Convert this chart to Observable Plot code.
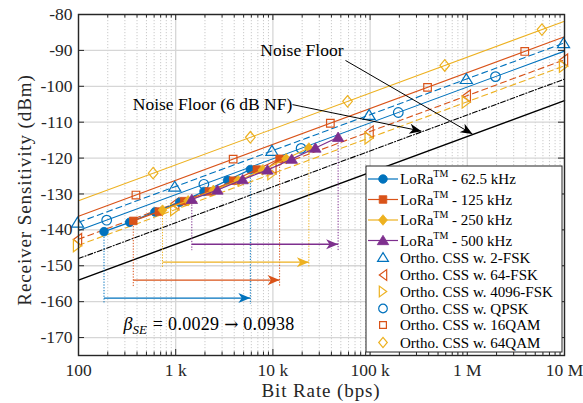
<!DOCTYPE html>
<html><head><meta charset="utf-8">
<script src="https://cdn.jsdelivr.net/npm/d3@7"></script>
<script src="https://cdn.jsdelivr.net/npm/@observablehq/plot@0.6"></script>
<style>body{margin:0;background:#fff} #chart{width:583px;height:403px}</style>
</head><body><div id="chart"></div>
<script>
// ---------------- data ----------------
const xTickValues = [1e2, 1e3, 1e4, 1e5, 1e6, 1e7];
const xTickLabels = ["100", "1 k", "10 k", "100 k", "1 M", "10 M"];
const yTickValues = [-170, -160, -150, -140, -130, -120, -110, -100, -90, -80];

// LoRa (filled markers): bit rate (bps) vs sensitivity (dBm), SF12 -> SF6
const loraRates625 = [183, 336, 610, 1099, 1953, 3418, 5859];
const loraSens625  = [-140.5, -137.9, -135.0, -132.3, -129.3, -126.2, -123.2];
const loraRates125 = [366, 671, 1221, 2197, 3906, 6836, 11719];
const loraSens125  = [-137.5, -134.9, -132.0, -129.3, -126.3, -123.2, -120.2];
const loraRates250 = [732, 1343, 2441, 4395, 7813, 13672, 23438];
const loraSens250  = [-134.5, -131.9, -129.0, -126.3, -123.3, -120.2, -117.2];
const loraRates500 = [1465, 2686, 4883, 8789, 15625, 27344, 46875];
const loraSens500  = [-131.5, -128.9, -126.0, -123.3, -120.3, -117.2, -114.2];
const arrowLevels  = [-159, -154, -149, -144];
const dropLevels   = [-160.8, -155.8, -150.8, -145.8];

// Orthogonal CSS (open markers)
const fskRates     = [97.7, 977, 9770, 97700, 977000, 9770000];
const sens2FSK     = [-138, -128, -118, -108, -98, -88];
const sens64FSK    = [-142.7, -132.7, -122.7, -112.7, -102.7, -92.7];
const sens4096FSK  = [-144.4, -134.4, -124.4, -114.4, -104.4, -94.4];
const qpskRates    = [195, 1950, 19500, 195000, 1950000];
const sensQPSK     = [-137.3, -127.3, -117.3, -107.3, -97.3];
const qam16Rates   = [390, 3900, 39000, 390000, 3900000];
const sens16QAM    = [-130.3, -120.3, -110.3, -100.3, -90.3];
const qam64Rates   = [586, 5860, 58600, 586000, 5860000];
const sens64QAM    = [-124.2, -114.2, -104.2, -94.2, -84.2];

// straight reference lines: value at 100 bps and at 10 Mbps
const lineRates    = [100, 1e7];
const line2FSK     = [-137.9, -87.9];
const line64FSK    = [-142.6, -92.6];
const line4096FSK  = [-144.3, -94.3];
const lineQPSK     = [-140.2, -90.2];
const line16QAM    = [-136.2, -86.2];
const line64QAM    = [-131.9, -81.9];
const noiseFloor   = [-154, -104];
const noiseFloor6  = [-148, -98];

// annotations
const nfText = "Noise Floor", nfTextPos = [53200, -90.1];
const nfArrow = [[55800, -92.8], [1.13e6, -113.3]];
const nf6Text = "Noise Floor (6 dB NF)", nf6TextPos = [15800, -105.1];
const nf6Arrow = [[15900, -105.1], [338000, -112.5]];
const betaText = "βSE = 0.0029 → 0.0938", betaPos = [290, -166.3];

// ---------------- styling ----------------
const blue = "#0072BD", orange = "#D95319", yellow = "#EDB120", purple = "#7E2F8E";
const W = 583, H = 403, mL = 78, mR = 19, mT = 14, mB = 48;
const iw = W - mL - mR, ih = H - mT - mB;
const axisColor = "#262626";

function sym(fn) { return {draw(ctx, size) { const r = Math.sqrt(size / Math.PI); fn(ctx, r); }}; }
const symCircle = sym((c, r) => { c.moveTo(r, 0); c.arc(0, 0, r, 0, 2 * Math.PI); c.closePath(); });
const symSquare = sym((c, r) => { c.rect(-r, -r, 2 * r, 2 * r); });
const symDiamond = sym((c, r) => { c.moveTo(0, -1.2 * r); c.lineTo(r, 0); c.lineTo(0, 1.2 * r); c.lineTo(-r, 0); c.closePath(); });
const symTriUp = sym((c, r) => { c.moveTo(0, -r); c.lineTo(1.1 * r, 0.8 * r); c.lineTo(-1.1 * r, 0.8 * r); c.closePath(); });
const symTriLeft = sym((c, r) => { c.moveTo(-0.75 * r, 0); c.lineTo(0.75 * r, -1.1 * r); c.lineTo(0.75 * r, 1.1 * r); c.closePath(); });
const symTriRight = sym((c, r) => { c.moveTo(0.75 * r, 0); c.lineTo(-0.75 * r, -1.1 * r); c.lineTo(-0.75 * r, 1.1 * r); c.closePath(); });
const symArrow = sym((c, r) => { c.moveTo(0, 0); c.lineTo(-r, -0.42 * r); c.lineTo(-0.72 * r, 0); c.lineTo(-r, 0.42 * r); c.closePath(); });

const pts = (rates, sens) => rates.map((r, i) => ({r, s: sens[i]}));

const lora = [
  {text: "62.5 kHz", color: blue, symbol: symCircle, r: 4.3, data: pts(loraRates625, loraSens625)},
  {text: "125 kHz", color: orange, symbol: symSquare, r: 3.8, data: pts(loraRates125, loraSens125)},
  {text: "250 kHz", color: yellow, symbol: symDiamond, r: 4.4, data: pts(loraRates250, loraSens250)},
  {text: "500 kHz", color: purple, symbol: symTriUp, r: 5.2, data: pts(loraRates500, loraSens500)}
];
const ortho = [
  {text: "2-FSK", color: blue, symbol: symTriUp, r: 5.5, dash: "6,4", data: pts(fskRates, sens2FSK), line: pts(lineRates, line2FSK)},
  {text: "64-FSK", color: orange, symbol: symTriLeft, r: 5.5, dash: "6,4", data: pts(fskRates, sens64FSK), line: pts(lineRates, line64FSK)},
  {text: "4096-FSK", color: yellow, symbol: symTriRight, r: 5.5, dash: "6,4", data: pts(fskRates, sens4096FSK), line: pts(lineRates, line4096FSK)},
  {text: "QPSK", color: blue, symbol: symCircle, r: 4.8, dash: undefined, data: pts(qpskRates, sensQPSK), line: pts(lineRates, lineQPSK)},
  {text: "16QAM", color: orange, symbol: symSquare, r: 3.8, dash: undefined, data: pts(qam16Rates, sens16QAM), line: pts(lineRates, line16QAM)},
  {text: "64QAM", color: yellow, symbol: symDiamond, r: 4.8, dash: undefined, data: pts(qam64Rates, sens64QAM), line: pts(lineRates, line64QAM)}
];

const xMinor = [];
for (let dec = 100; dec < 1e7; dec *= 10) for (let k = 2; k <= 9; k++) xMinor.push(k * dec);

const sx = Plot.scale({x: {type: "log", domain: [100, 1e7], range: [mL, W - mR]}});
const sy = Plot.scale({y: {domain: [-175, -80], range: [H - mB, mT]}});
const angleOf = (a, b) => Math.atan2(sy.apply(b[1]) - sy.apply(a[1]), sx.apply(b[0]) - sx.apply(a[0])) * 180 / Math.PI;

const marks = [
  // grid
  Plot.ruleX(xMinor, {x: d => d, stroke: "#bdbdbd", strokeWidth: 0.8, strokeDasharray: "1.2,1.8"}),
  Plot.ruleX(xTickValues, {x: d => d, stroke: "#d6d6d6", strokeWidth: 1.3}),
  Plot.ruleY(yTickValues, {y: d => d, stroke: "#d6d6d6", strokeWidth: 1.3}),
  // theory lines
  ...ortho.map(o => Plot.line(o.line, {x: "r", y: "s", stroke: o.color, strokeWidth: 1.1, strokeDasharray: o.dash})),
  Plot.line(pts(lineRates, noiseFloor6), {x: "r", y: "s", stroke: "black", strokeWidth: 1.1, strokeDasharray: "5,2,1,2"}),
  Plot.line(pts(lineRates, noiseFloor), {x: "r", y: "s", stroke: "black", strokeWidth: 1.4}),
  // LoRa drop lines and arrows
  ...lora.map((l, i) => {
    const a = l.data[0], b = l.data[l.data.length - 1];
    return Plot.ruleX([{r: a.r, s1: a.s, s2: dropLevels[i]}, {r: b.r, s1: b.s, s2: dropLevels[i]}],
      {x: "r", y1: "s1", y2: "s2", stroke: l.color, strokeWidth: 1, strokeDasharray: "1.3,1.5"});
  }),
  ...lora.map((l, i) => Plot.link([{x1: l.data[0].r, x2: l.data[l.data.length - 1].r, y: arrowLevels[i]}],
      {x1: "x1", x2: "x2", y1: "y", y2: "y", stroke: l.color, strokeWidth: 1.3})),
  ...lora.map((l, i) => Plot.dot([{x: l.data[l.data.length - 1].r, y: arrowLevels[i]}],
      {x: "x", y: "y", symbol: symArrow, r: 12, fill: l.color, stroke: "none"})),
  // ortho markers
  ...ortho.map(o => Plot.dot(o.data, {x: "r", y: "s", symbol: o.symbol, r: o.r, fill: "none", stroke: o.color, strokeWidth: 1.2})),
  // LoRa lines + filled markers
  ...lora.flatMap(l => [
    Plot.line(l.data, {x: "r", y: "s", stroke: l.color, strokeWidth: 1.2}),
    Plot.dot(l.data, {x: "r", y: "s", symbol: l.symbol, r: l.r, fill: l.color, stroke: l.color, strokeWidth: 0.8})
  ]),
  // annotations
  Plot.link([nfArrow], {x1: d => d[0][0], y1: d => d[0][1], x2: d => d[1][0], y2: d => d[1][1], stroke: "black", strokeWidth: 1}),
  Plot.link([nf6Arrow], {x1: d => d[0][0], y1: d => d[0][1], x2: d => d[1][0], y2: d => d[1][1], stroke: "black", strokeWidth: 1}),
  Plot.dot([nfArrow[1]], {x: d => d[0], y: d => d[1], symbol: symArrow, r: 12, fill: "black", stroke: "none", rotate: angleOf(nfArrow[0], nfArrow[1])}),
  Plot.dot([nf6Arrow[1]], {x: d => d[0], y: d => d[1], symbol: symArrow, r: 12, fill: "black", stroke: "none", rotate: angleOf(nf6Arrow[0], nf6Arrow[1])}),
  Plot.text([nfTextPos], {x: d => d[0], y: d => d[1], text: () => nfText, textAnchor: "end", fontSize: 17.5, fill: "black"}),
  Plot.text([nf6TextPos], {x: d => d[0], y: d => d[1], text: () => nf6Text, textAnchor: "end", fontSize: 17.5, fill: "black"}),
  Plot.text([betaPos], {x: d => d[0], y: d => d[1], text: () => betaText, textAnchor: "start", fontSize: 18, fill: "black"}),
  // inward ticks
  Plot.ruleX(xTickValues, {x: d => d, insetTop: ih - 6, stroke: axisColor, strokeWidth: 1}),
  Plot.ruleX(xTickValues, {x: d => d, insetBottom: ih - 6, stroke: axisColor, strokeWidth: 1}),
  Plot.ruleX(xMinor, {x: d => d, insetTop: ih - 3.5, stroke: axisColor, strokeWidth: 1}),
  Plot.ruleX(xMinor, {x: d => d, insetBottom: ih - 3.5, stroke: axisColor, strokeWidth: 1}),
  Plot.ruleY(yTickValues, {y: d => d, insetRight: iw - 6, stroke: axisColor, strokeWidth: 1}),
  Plot.ruleY(yTickValues, {y: d => d, insetLeft: iw - 6, stroke: axisColor, strokeWidth: 1}),
  Plot.frame({stroke: axisColor, strokeWidth: 1.4}),
  Plot.axisX({ticks: xTickValues, tickFormat: d => xTickLabels[xTickValues.indexOf(d)], tickSize: 0, tickPadding: 8, label: null, fontSize: 17.5}),
  Plot.axisY({ticks: yTickValues, tickFormat: d => String(d).replace("\u2212", "-"), tickSize: 0, tickPadding: 6, label: null, fontSize: 17.5})
];

const svg = Plot.plot({
  width: W, height: H,
  marginLeft: mL, marginRight: mR, marginTop: mT, marginBottom: mB,
  x: {type: "log", domain: [100, 1e7]},
  y: {domain: [-175, -80]},
  style: {fontFamily: "'Liberation Serif', 'Times New Roman', serif", fontSize: "17px", color: axisColor, background: "white", overflow: "visible"},
  marks
});
document.getElementById("chart").appendChild(svg);

const root = d3.select(svg);
const font = "'Liberation Serif', 'Times New Roman', serif";

// beta label with subscript
root.selectAll("text").filter(function() { return this.textContent === betaText; }).each(function() {
  const t = d3.select(this); t.text(null);
  t.append("tspan").attr("font-style", "italic").text("β");
  t.append("tspan").attr("font-style", "italic").attr("font-size", 13).attr("dy", 4).text("SE");
  t.append("tspan").attr("dy", -4).attr("dx", 6).attr("letter-spacing", 0.3).text("= 0.0029 ");
  t.append("tspan").attr("font-family", "'DejaVu Serif', serif").attr("font-size", 17).text("→");
  t.append("tspan").attr("letter-spacing", 0.3).text(" 0.0938");
});

// axis titles
root.append("text").attr("x", mL + iw / 2).attr("y", 397).attr("text-anchor", "middle")
  .attr("font-family", font).attr("font-size", 19).attr("letter-spacing", 0.9).attr("fill", axisColor).text("Bit Rate (bps)");
root.append("text").attr("transform", `translate(31,190) rotate(-90)`).attr("text-anchor", "middle")
  .attr("font-family", font).attr("font-size", 19).attr("letter-spacing", 0.9).attr("fill", axisColor).text("Receiver Sensitivity (dBm)");

// legend
const lg = root.append("g").attr("font-family", font).attr("font-size", 15).attr("fill", "black").attr("text-anchor", "start");
lg.append("rect").attr("x", 366).attr("y", 166).attr("width", 196).attr("height", 186)
  .attr("fill", "white").attr("stroke", axisColor).attr("stroke-width", 1);
const rowY = [179, 199.5, 220, 240.5, 257.5, 275, 291.5, 308.5, 325, 342.5];
lora.forEach((l, i) => {
  const y = rowY[i];
  lg.append("line").attr("x1", 368).attr("x2", 398).attr("y1", y).attr("y2", y).attr("stroke", l.color).attr("stroke-width", 1.2);
  lg.append("path").attr("transform", `translate(383,${y})`).attr("d", d3.symbol(l.symbol, l.r * l.r * Math.PI)())
    .attr("fill", l.color).attr("stroke", l.color).attr("stroke-width", 0.8);
  const t = lg.append("text").attr("x", 400).attr("y", y + 5).attr("text-anchor", "start");
  t.append("tspan").text("LoRa");
  t.append("tspan").attr("font-size", 10).attr("dy", -7).text("TM");
  t.append("tspan").attr("dy", 7).text(" - " + l.text);
});
ortho.forEach((o, j) => {
  const y = rowY[4 + j];
  lg.append("path").attr("transform", `translate(383,${y})`).attr("d", d3.symbol(o.symbol, o.r * o.r * Math.PI * 0.8)())
    .attr("fill", "none").attr("stroke", o.color).attr("stroke-width", 1.2);
  lg.append("text").attr("x", 400).attr("y", y + 5).attr("text-anchor", "start").text("Ortho. CSS w. " + o.text);
});
</script></body></html>
